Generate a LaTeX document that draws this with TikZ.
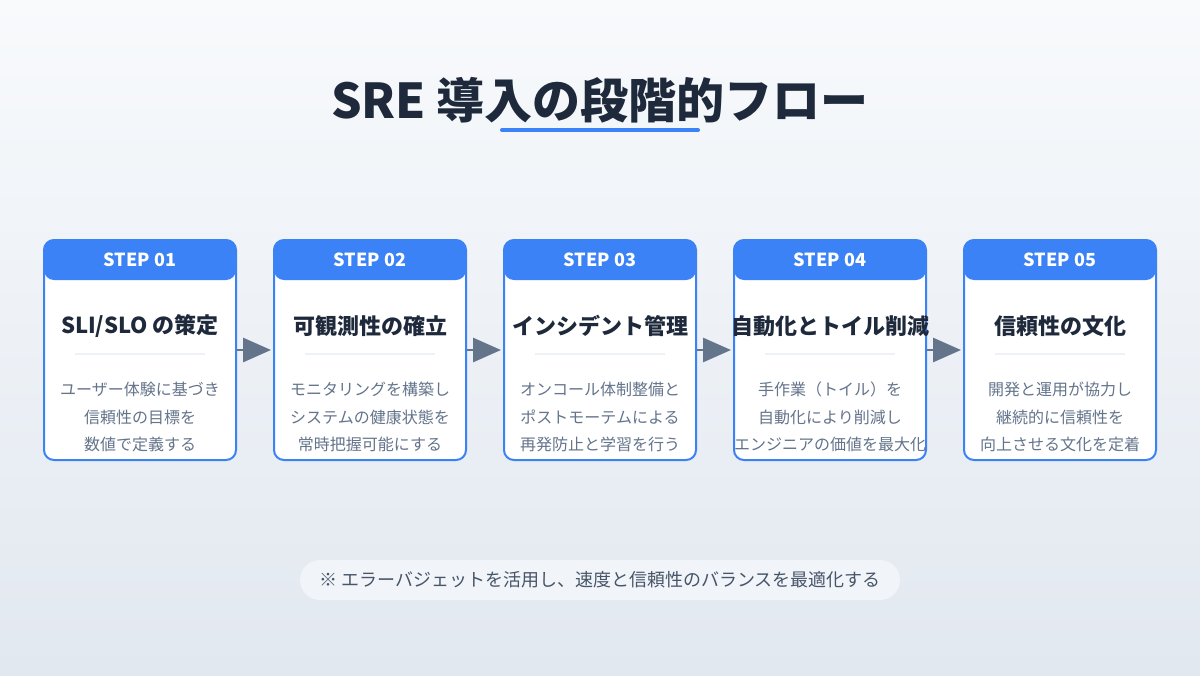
\documentclass[tikz,border=0pt]{standalone}
\usepackage{fontspec}
\setmainfont{Noto Sans CJK JP}
\usetikzlibrary{arrows.meta}
\definecolor{headblue}{HTML}{3B82F6}
\definecolor{titledark}{HTML}{1E293B}
\definecolor{descgray}{HTML}{64748B}
\definecolor{notegray}{HTML}{475569}
\definecolor{sepgray}{HTML}{EEF2F7}
\definecolor{notefill}{HTML}{F1F5F9}
\definecolor{bgtop}{HTML}{F8FAFC}
\definecolor{bgbot}{HTML}{E2E8F0}
\begin{document}
\begin{tikzpicture}[x=.75pt,y=-.75pt,line join=round,
    stepbox/.style={draw=headblue,line width=1.5pt,fill=white,rounded corners=7.5pt,
      minimum width=144pt,minimum height=165pt,inner sep=0pt,
      path picture={\fill[headblue] (path picture bounding box.north west)
        rectangle ([yshift=-30pt]path picture bounding box.north east);}},
    steplabel/.style={text=white,font=\bfseries\fontsize{13.5}{16}\selectfont},
    steptitle/.style={text=titledark,font=\bfseries\fontsize{16.5}{19}\selectfont},
    stepdesc/.style={text=descgray,align=center,font=\fontsize{12}{20.6}\selectfont},
    sepline/.style={draw=sepgray,line width=1.5pt},
    flow/.style={draw=descgray,line width=2.2pt,-{Triangle[length=21pt,width=18pt]},shorten >=1.5pt},
    notepill/.style={fill=notefill,rounded corners=15pt,minimum width=450pt,minimum height=30pt,
      text=notegray,font=\fontsize{13.5}{16}\selectfont}]
  \useasboundingbox (0,0) rectangle (1200,675);
  \shade[top color=bgtop,bottom color=bgbot] (0,0) rectangle (1200,675);
  % title
  \node[text=titledark,font=\bfseries\fontsize{36}{42}\selectfont] (title) at (600,100) {SRE 導入の段階的フロー};
  \draw[headblue,line width=3pt,line cap=round] (502,130) -- (698,130);
  % steps
  \foreach \i/\ttl/\desc in {
      1/{SLI/SLO の策定}/{ユーザー体験に基づき\\信頼性の目標を\\数値で定義する},
      2/{可観測性の確立}/{モニタリングを構築し\\システムの健康状態を\\常時把握可能にする},
      3/{インシデント管理}/{オンコール体制整備と\\ポストモーテムによる\\再発防止と学習を行う},
      4/{自動化とトイル削減}/{手作業（トイル）を\\自動化により削減し\\エンジニアの価値を最大化},
      5/{信頼性の文化}/{開発と運用が協力し\\継続的に信頼性を\\向上させる文化を定着}}{
    \pgfmathsetmacro\cx{140+230*(\i-1)}
    \node[stepbox] (s\i) at (\cx,350) {};
    \node[steplabel] (h\i) at (\cx,260) {STEP 0\i};
    \node[steptitle] (t\i) at (\cx,326) {\ttl};
    \draw[sepline] (\cx-65,354) -- (\cx+65,354);
    \node[stepdesc] (d\i) at (\cx,417) {\desc};
  }
  \foreach \i [count=\j from 2] in {1,...,4}
    \draw[flow] (s\i.east) -- (s\j.west);
  % note
  \node[notepill] (note) at (600,580) {※ エラーバジェットを活用し、速度と信頼性のバランスを最適化する};
\end{tikzpicture}
\end{document}
